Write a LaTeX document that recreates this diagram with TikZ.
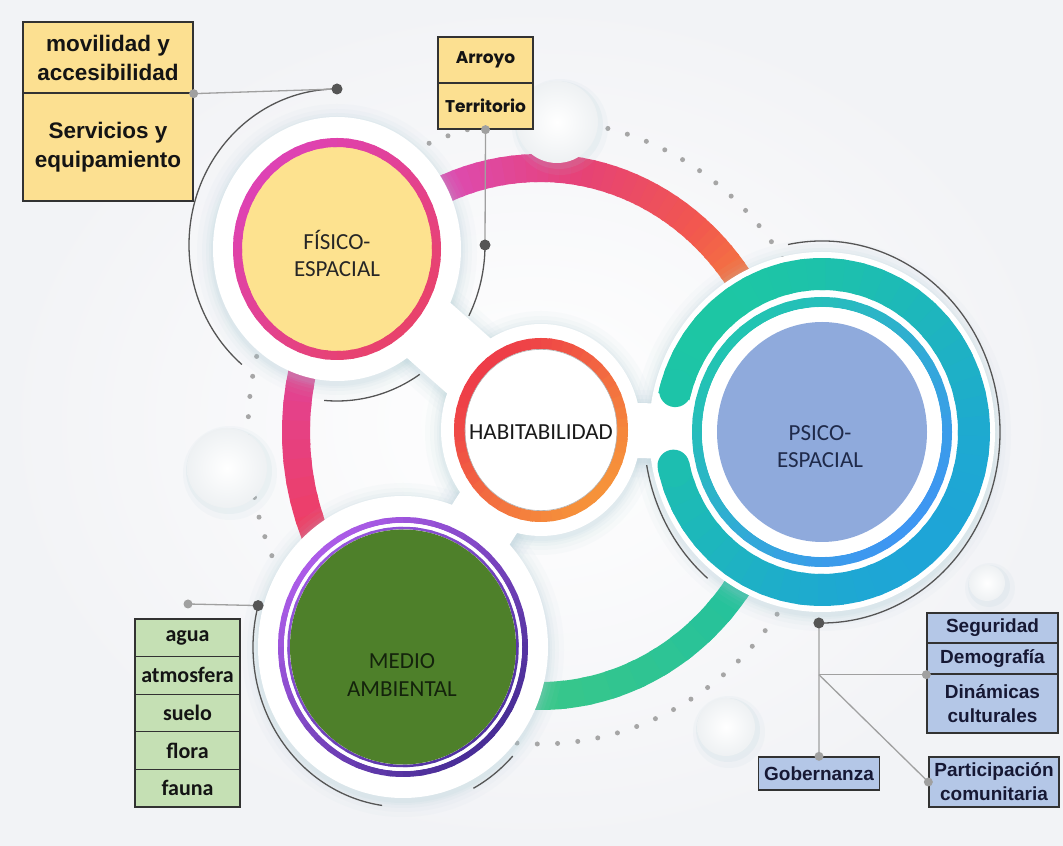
\documentclass[tikz,border=0pt]{standalone}
\usepackage{fontspec}
\setmainfont{Carlito}
\newfontfamily\carl{Carlito}
\newfontfamily\arl{Liberation Sans}
\newfontfamily\pop{Poppins}
\usetikzlibrary{calc}
\definecolor{bgc}{RGB}{242,243,246}
\definecolor{shc}{RGB}{172,204,212}
\definecolor{sph}{RGB}{238,241,243}
\definecolor{ylw}{RGB}{252,224,145}
\definecolor{fisy}{RGB}{253,226,143}
\definecolor{gbox}{RGB}{197,224,180}
\definecolor{bbox}{RGB}{180,199,231}
\definecolor{mgreen}{RGB}{78,128,42}
\definecolor{pblue}{RGB}{143,170,220}
\definecolor{rO}{RGB}{245,140,55}
\definecolor{rC}{RGB}{242,88,78}
\definecolor{rP}{RGB}{230,66,118}
\definecolor{rM}{RGB}{221,75,178}
\definecolor{rK}{RGB}{225,66,150}
\definecolor{rR}{RGB}{242,62,82}
\definecolor{gA}{RGB}{60,200,135}
\definecolor{gB}{RGB}{32,192,160}
\definecolor{fisA}{RGB}{222,66,180}
\definecolor{fisB}{RGB}{232,66,108}
\definecolor{habA}{RGB}{238,60,72}
\definecolor{habB}{RGB}{246,146,58}
\definecolor{medA}{RGB}{172,92,232}
\definecolor{medB}{RGB}{72,45,150}
\definecolor{medC}{RGB}{150,85,220}
\definecolor{medD}{RGB}{80,50,160}
\definecolor{psiA}{RGB}{29,198,164}
\definecolor{psiB}{RGB}{30,165,215}
\definecolor{psiC}{RGB}{34,196,178}
\definecolor{psiD}{RGB}{62,150,242}
\definecolor{arcc}{RGB}{85,85,85}
\definecolor{conc}{RGB}{160,160,160}
\definecolor{boxb}{RGB}{50,50,50}
\definecolor{navy}{RGB}{22,24,52}
\definecolor{medt}{RGB}{20,35,12}
\definecolor{psit}{RGB}{31,42,74}

% gradient along an elliptic arc: center, rx, ry, t0, t1, colA, colB, width
\newcommand\arcgrad[8]{%
  \foreach \i in {0,...,11}{%
    \pgfmathsetmacro\ta{#4+(#5-#4)/12*\i}%
    \pgfmathsetmacro\tb{#4+(#5-#4)/12*(\i+1.3)}%
    \pgfmathsetmacro\pp{100-(\i+0.5)*100/12}%
    \draw[line width=#8, draw=#6!\pp!#7, shift={#1}] (\ta:#2 and #3) arc[start angle=\ta, end angle=\tb, x radius=#2, y radius=#3];%
  }%
}
% ring with directional gradient: center, rx, ry, t0, t1, colA, colB, direction of colA, width
\newcommand\dirring[9]{%
  \foreach \i in {0,...,47}{%
    \pgfmathsetmacro\ta{#4+(#5-#4)/48*\i}%
    \pgfmathsetmacro\tb{#4+(#5-#4)/48*(\i+1.3)}%
    \pgfmathsetmacro\pp{max(0,min(100,50+50*cos((\ta+\tb)/2-#8)))}%
    \draw[line width=#9, draw=#6!\pp!#7, shift={#1}] (\ta:#2 and #3) arc[start angle=\ta, end angle=\tb, x radius=#2, y radius=#3];%
  }%
}
\newcommand\sphere[2]{%
  \fill[shc, opacity=0.08, shift={#1}] (3,-5) circle[radius=#2+7];
  \fill[shc, opacity=0.12, shift={#1}] (2,-3) circle[radius=#2+3];
  \shade[inner color=white, outer color=sph, shift={#1}] (0,0) circle[radius=#2];
}

\tikzset{
  boxbase/.style={draw=boxb, line width=1.3pt, inner sep=0pt, align=center},
  ybox/.style={boxbase, fill=ylw, text=black!92, font=\arl\bfseries\fontsize{22.5}{29}\selectfont, minimum width=170pt},
  abox/.style={boxbase, fill=ylw, text=black!92, font=\pop\bfseries\fontsize{17}{20}\selectfont, minimum width=95pt, minimum height=46pt},
  gbx/.style={boxbase, fill=gbox, text=black!92, font=\carl\bfseries\fontsize{22}{26}\selectfont, minimum width=105pt, minimum height=37.6pt},
  bbx/.style={boxbase, fill=bbox, text=navy, font=\arl\bfseries\fontsize{19}{24}\selectfont},
  ctext/.style={align=center, font=\carl\fontsize{23}{27.5}\selectfont},
  conn/.style={conc, line width=1.3pt},
  garc/.style={arcc, line width=1.3pt},
  ddot/.style={fill=arcc},
  gdot/.style={fill=conc}
}

\begin{document}
\begin{tikzpicture}[x=1pt,y=1pt]
\useasboundingbox (0,0) rectangle (1063,846);
\shade[inner color=white, outer color=bgc] (0,0) rectangle (1063,846);

% dotted ellipse
\draw[gray!70, line width=5pt, line cap=round, dash pattern=on 0pt off 20.3pt] (540,414) ellipse[x radius=292, y radius=312];

% big ring band
\arcgrad{(540,414)}{244}{264}{25}{50}{rO}{rC}{28pt}
\arcgrad{(540,414)}{244}{264}{50}{80}{rC}{rP}{28pt}
\arcgrad{(540,414)}{244}{264}{80}{112}{rP}{rM}{28pt}
\arcgrad{(540,414)}{244}{264}{112}{165}{rM}{rK}{28pt}
\arcgrad{(540,414)}{244}{264}{165}{215}{rK}{rR}{28pt}
\arcgrad{(540,414)}{244}{264}{262}{335}{gA}{gB}{28pt}

% spheres
\sphere{(227,378)}{40}
\sphere{(557,724)}{41}
\sphere{(726,119)}{29}
\sphere{(987,263)}{18}

% halo shadows
\foreach \e/\op in {16/0.05,11/0.06,7/0.08,4/0.09,2/0.10}{
  \fill[shc, opacity=\op] (337,594) ellipse[x radius=124+\e, y radius=132+\e];
  \fill[shc, opacity=\op] (541,413) ellipse[x radius=100+\e, y radius=106+\e];
  \fill[shc, opacity=\op] (403,196) ellipse[x radius=145+\e, y radius=151+\e];
  \fill[shc, opacity=\op] (822,411) ellipse[x radius=173+\e, y radius=180+\e];
  \draw[shc, opacity=\op, line width=70+2*\e] (337,594) -- (541,413);
  \draw[shc, opacity=\op, line width=70+2*\e] (403,196) -- (541,413);
  \draw[shc, opacity=\op, line width=55+2*\e] (541,413) -- (822,411);
}
% white halos and necks
\fill[white] (337,597) ellipse[x radius=124, y radius=132];
\fill[white] (541,416) ellipse[x radius=100, y radius=106];
\fill[white] (403,199) ellipse[x radius=145, y radius=151];
\fill[white] (822,414) ellipse[x radius=173, y radius=180];
\draw[white, line width=70pt] (337,597) -- (541,416);
\draw[white, line width=70pt] (403,199) -- (541,416);
\draw[white, line width=55pt] (541,416) -- (822,414);

% FISICO-ESPACIAL
\fill[fisy] (337,597) ellipse[x radius=100, y radius=107];
\dirring{(337,597)}{99.5}{106.5}{0}{360}{fisA}{fisB}{135}{9pt}
\node[ctext, text=black!85] (fis) at (337,592.5) {FÍSICO-\\ESPACIAL};

% HABITABILIDAD
\fill[white] (541,416) ellipse[x radius=80, y radius=85];
\dirring{(541,416)}{81.5}{86.5}{0}{360}{habA}{habB}{135}{11pt}
\draw[gray!60, line width=0.6pt] (541,416) ellipse[x radius=76, y radius=80.6];
\node[ctext, text=black!90] (hab) at (541,414) {HABITABILIDAD};

% MEDIO AMBIENTAL
\dirring{(403,199)}{122}{127}{0}{360}{medA}{medB}{135}{6pt}
\fill[white] (403,199) ellipse[x radius=119, y radius=124];
\dirring{(403,199)}{114.5}{119}{0}{360}{medC}{medD}{135}{2.5pt}
\fill[mgreen] (403,199) ellipse[x radius=113, y radius=117.5];
\node[ctext, text=medt] (med) at (402,171) {MEDIO\\AMBIENTAL};

% PSICO-ESPACIAL
\dirring{(822,414)}{152}{158}{192.3}{525}{psiA}{psiB}{135}{32pt}
\draw[line width=32pt, line cap=round, draw=psiA!77!psiB, shift={(822,414)}] (192.3:152 and 158) arc[start angle=192.3, end angle=194.3, x radius=152, y radius=158];
\draw[line width=32pt, line cap=round, draw=psiA!93!psiB, shift={(822,414)}] (523:152 and 158) arc[start angle=523, end angle=525, x radius=152, y radius=158];
\dirring{(822,414)}{125}{130}{0}{360}{psiC}{psiD}{135}{10pt}
\fill[white] (822,414) ellipse[x radius=120, y radius=124.8];
\fill[pblue] (822,414) ellipse[x radius=105, y radius=110];
\node[ctext, text=psit] (psi) at (820,399.5) {PSICO-\\ESPACIAL};

% grey arcs
\draw[garc, shift={(337,601)}] (90:148 and 156) arc[start angle=90, end angle=230, x radius=148, y radius=156];
\draw[garc, shift={(337,601)}] (0:148 and 156) arc[start angle=0, end angle=-27, x radius=148, y radius=156];
\draw[garc, shift={(337,601)}] (-56:148 and 156) arc[start angle=-56, end angle=-95, x radius=148, y radius=156];
\draw[garc, shift={(403,199)}] (165:150 and 160) arc[start angle=165, end angle=262, x radius=150, y radius=160];
\draw[garc, shift={(403,199)}] (-43:150 and 160) arc[start angle=-43, end angle=-62, x radius=150, y radius=160];
\draw[garc, shift={(822,414)}] (101:178 and 191) arc[start angle=101, end angle=-91, x radius=178, y radius=191];
\draw[garc, shift={(822,414)}] (190:178 and 191) arc[start angle=190, end angle=230, x radius=178, y radius=191];

\coordinate (fd1) at ($(337,601)+(90:148 and 156)$);
\coordinate (fd2) at ($(337,601)+(0:148 and 156)$);
\coordinate (md) at ($(403,199)+(165:150 and 160)$);
\coordinate (pd) at ($(822,414)+(-91:178 and 191)$);
\coordinate (mg) at (188,242);

% boxes
\node[ybox, minimum height=71pt] (mov) at (108,788.5) {movilidad y\\accesibilidad};
\node[ybox, minimum height=108pt] (serv) at (108,699) {Servicios y\\equipamiento};
\node[abox] (arr) at (485.5,786) {Arroyo};
\node[abox] (ter) at (485.5,740) {Territorio};
\node[gbx] (agua) at (187.5,208.2) {agua};
\node[gbx] (atm) at (187.5,170.6) {atmosfera};
\node[gbx] (sue) at (187.5,133) {suelo};
\node[gbx] (flo) at (187.5,95.4) {flora};
\node[gbx] (fau) at (187.5,57.8) {fauna};
\node[bbx, minimum width=131pt, minimum height=30pt] (seg) at (992.5,218) {Seguridad};
\node[bbx, minimum width=131pt, minimum height=31pt] (dem) at (992.5,187.5) {Demografía};
\node[bbx, minimum width=131pt, minimum height=59pt] (din) at (992.5,142.5) {Dinámicas\\culturales};
\node[bbx, minimum width=130pt, minimum height=50pt] (part) at (994,64) {Participación\\comunitaria};
\node[bbx, minimum width=121pt, minimum height=33pt] (gob) at (819,72.5) {Gobernanza};
\coordinate (br) at (pd |- dem.south west);

% connectors
\draw[conn] (mov.south east) -- (fd1);
\draw[conn] (ter.south) -- (fd2);
\draw[conn] (mg) -- (md);
\draw[conn] (pd) -- (gob.north);
\draw[conn] (br) -- (dem.south west);
\draw[conn] (br) -- (part.west);

\foreach \p in {mov.south east, ter.south, mg, dem.south west, part.west, gob.north}
  \fill[gdot] (\p) circle[radius=4.5];
\foreach \p in {fd1, fd2, md, pd}
  \fill[ddot] (\p) circle[radius=5.5];
\end{tikzpicture}
\end{document}
